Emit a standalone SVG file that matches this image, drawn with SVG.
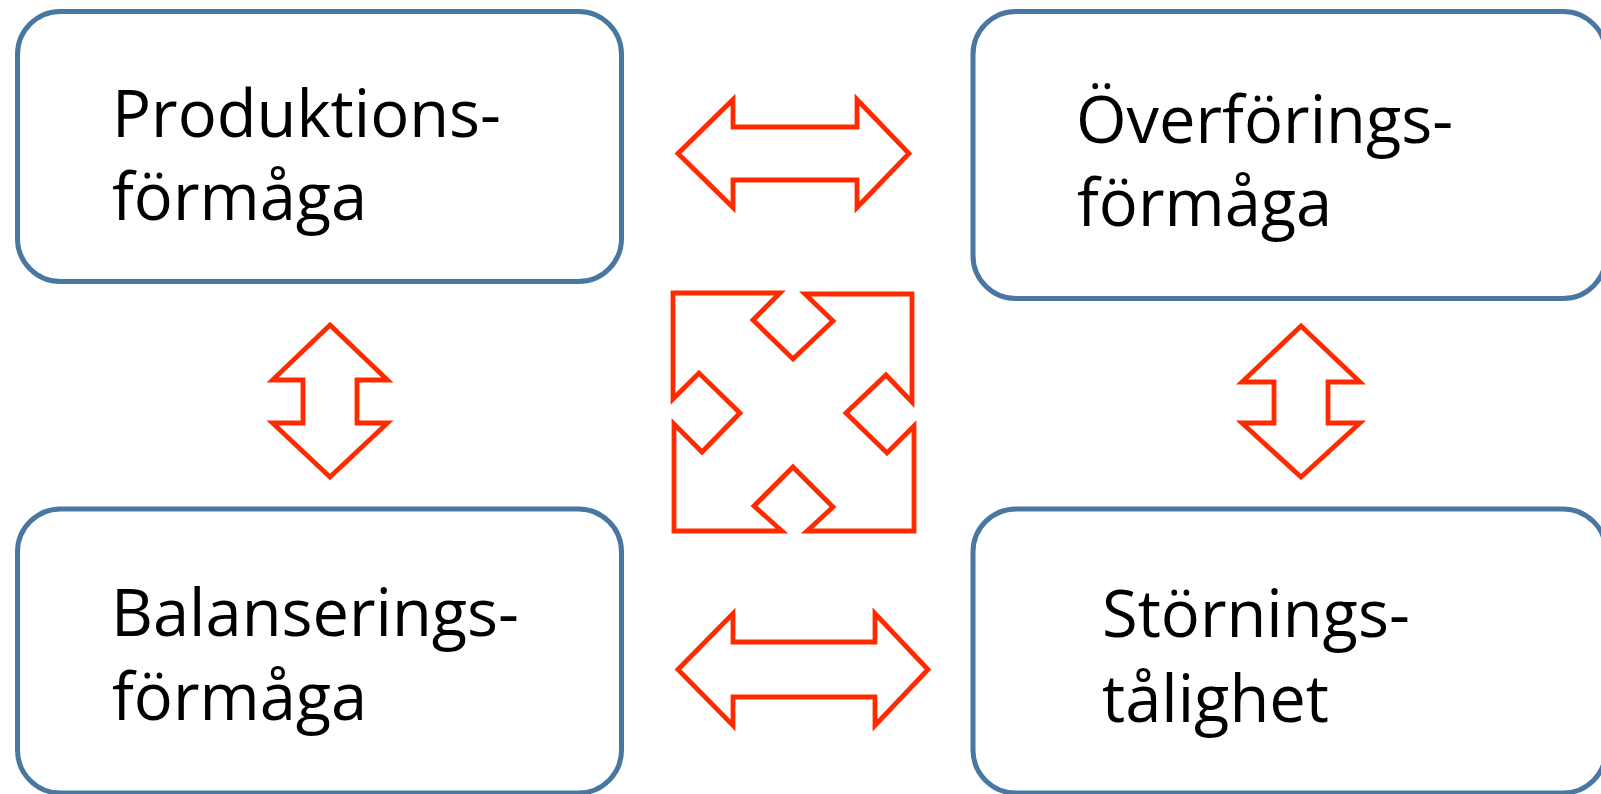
<svg xmlns="http://www.w3.org/2000/svg" width="1601" height="794" viewBox="0 0 1601 794">
<style>
.box{fill:#fff;stroke:#4A76A2;stroke-width:5}
.arr{fill:#fff;stroke:#FF2A00;stroke-width:4.8;stroke-linejoin:miter}
.t{font-family:"Open Sans","Liberation Sans",sans-serif;font-size:65px;fill:#000}
</style>
<rect width="1601" height="794" fill="#fff"/>
<g id="node-produktion">
<rect class="box" x="17.5" y="11.5" width="604" height="270" rx="43"/>
<text class="t" x="112" y="137">Produktions-</text>
<text class="t" x="112" y="220">förmåga</text>
</g>
<g id="node-overforing">
<rect class="box" x="973" y="11.5" width="633" height="287" rx="43"/>
<text class="t" x="1076" y="143">Överförings-</text>
<text class="t" x="1077" y="226">förmåga</text>
</g>
<g id="node-balansering">
<rect class="box" x="17.5" y="509" width="604" height="284" rx="43"/>
<text class="t" x="111" y="636">Balanserings-</text>
<text class="t" x="112" y="720">förmåga</text>
</g>
<g id="node-storning">
<rect class="box" x="973" y="509" width="633" height="284" rx="43"/>
<text class="t" x="1102" y="637">Störnings-</text>
<text class="t" x="1102" y="722">tålighet</text>
</g>
<g id="connectors">
<path class="arr" d="M678,153.5 L733,99.5 L733,127 L857,127 L857,99.5 L909,153.5 L857,207.5 L857,180 L733,180 L733,207.5 Z"/>
<path class="arr" d="M678,669.5 L733,613.5 L733,642 L875,642 L875,613.5 L928,669.5 L875,725.5 L875,697 L733,697 L733,725.5 Z"/>
<path class="arr" d="M330,325 L387.5,380 L357,380 L357,423 L387.5,423 L330,477 L272.5,423 L303,423 L303,380 L272.5,380 Z"/>
<path class="arr" d="M1301,326 L1360,382 L1328,382 L1328,423 L1360,423 L1301,477 L1242,423 L1274,423 L1274,382 L1242,382 Z"/>
<path class="arr" d="M673,293 L780,293 L753,320 L793,359 L833,321 L805,294 L912,294 L912,402 L886,375 L846,413 L887,453 L914,426 L914,531 L807,531 L833,507 L793,467 L754,506 L782,531 L674,531 L674,424 L702,452 L740,413 L699,373 L673,399 Z"/>
</g>
</svg>
